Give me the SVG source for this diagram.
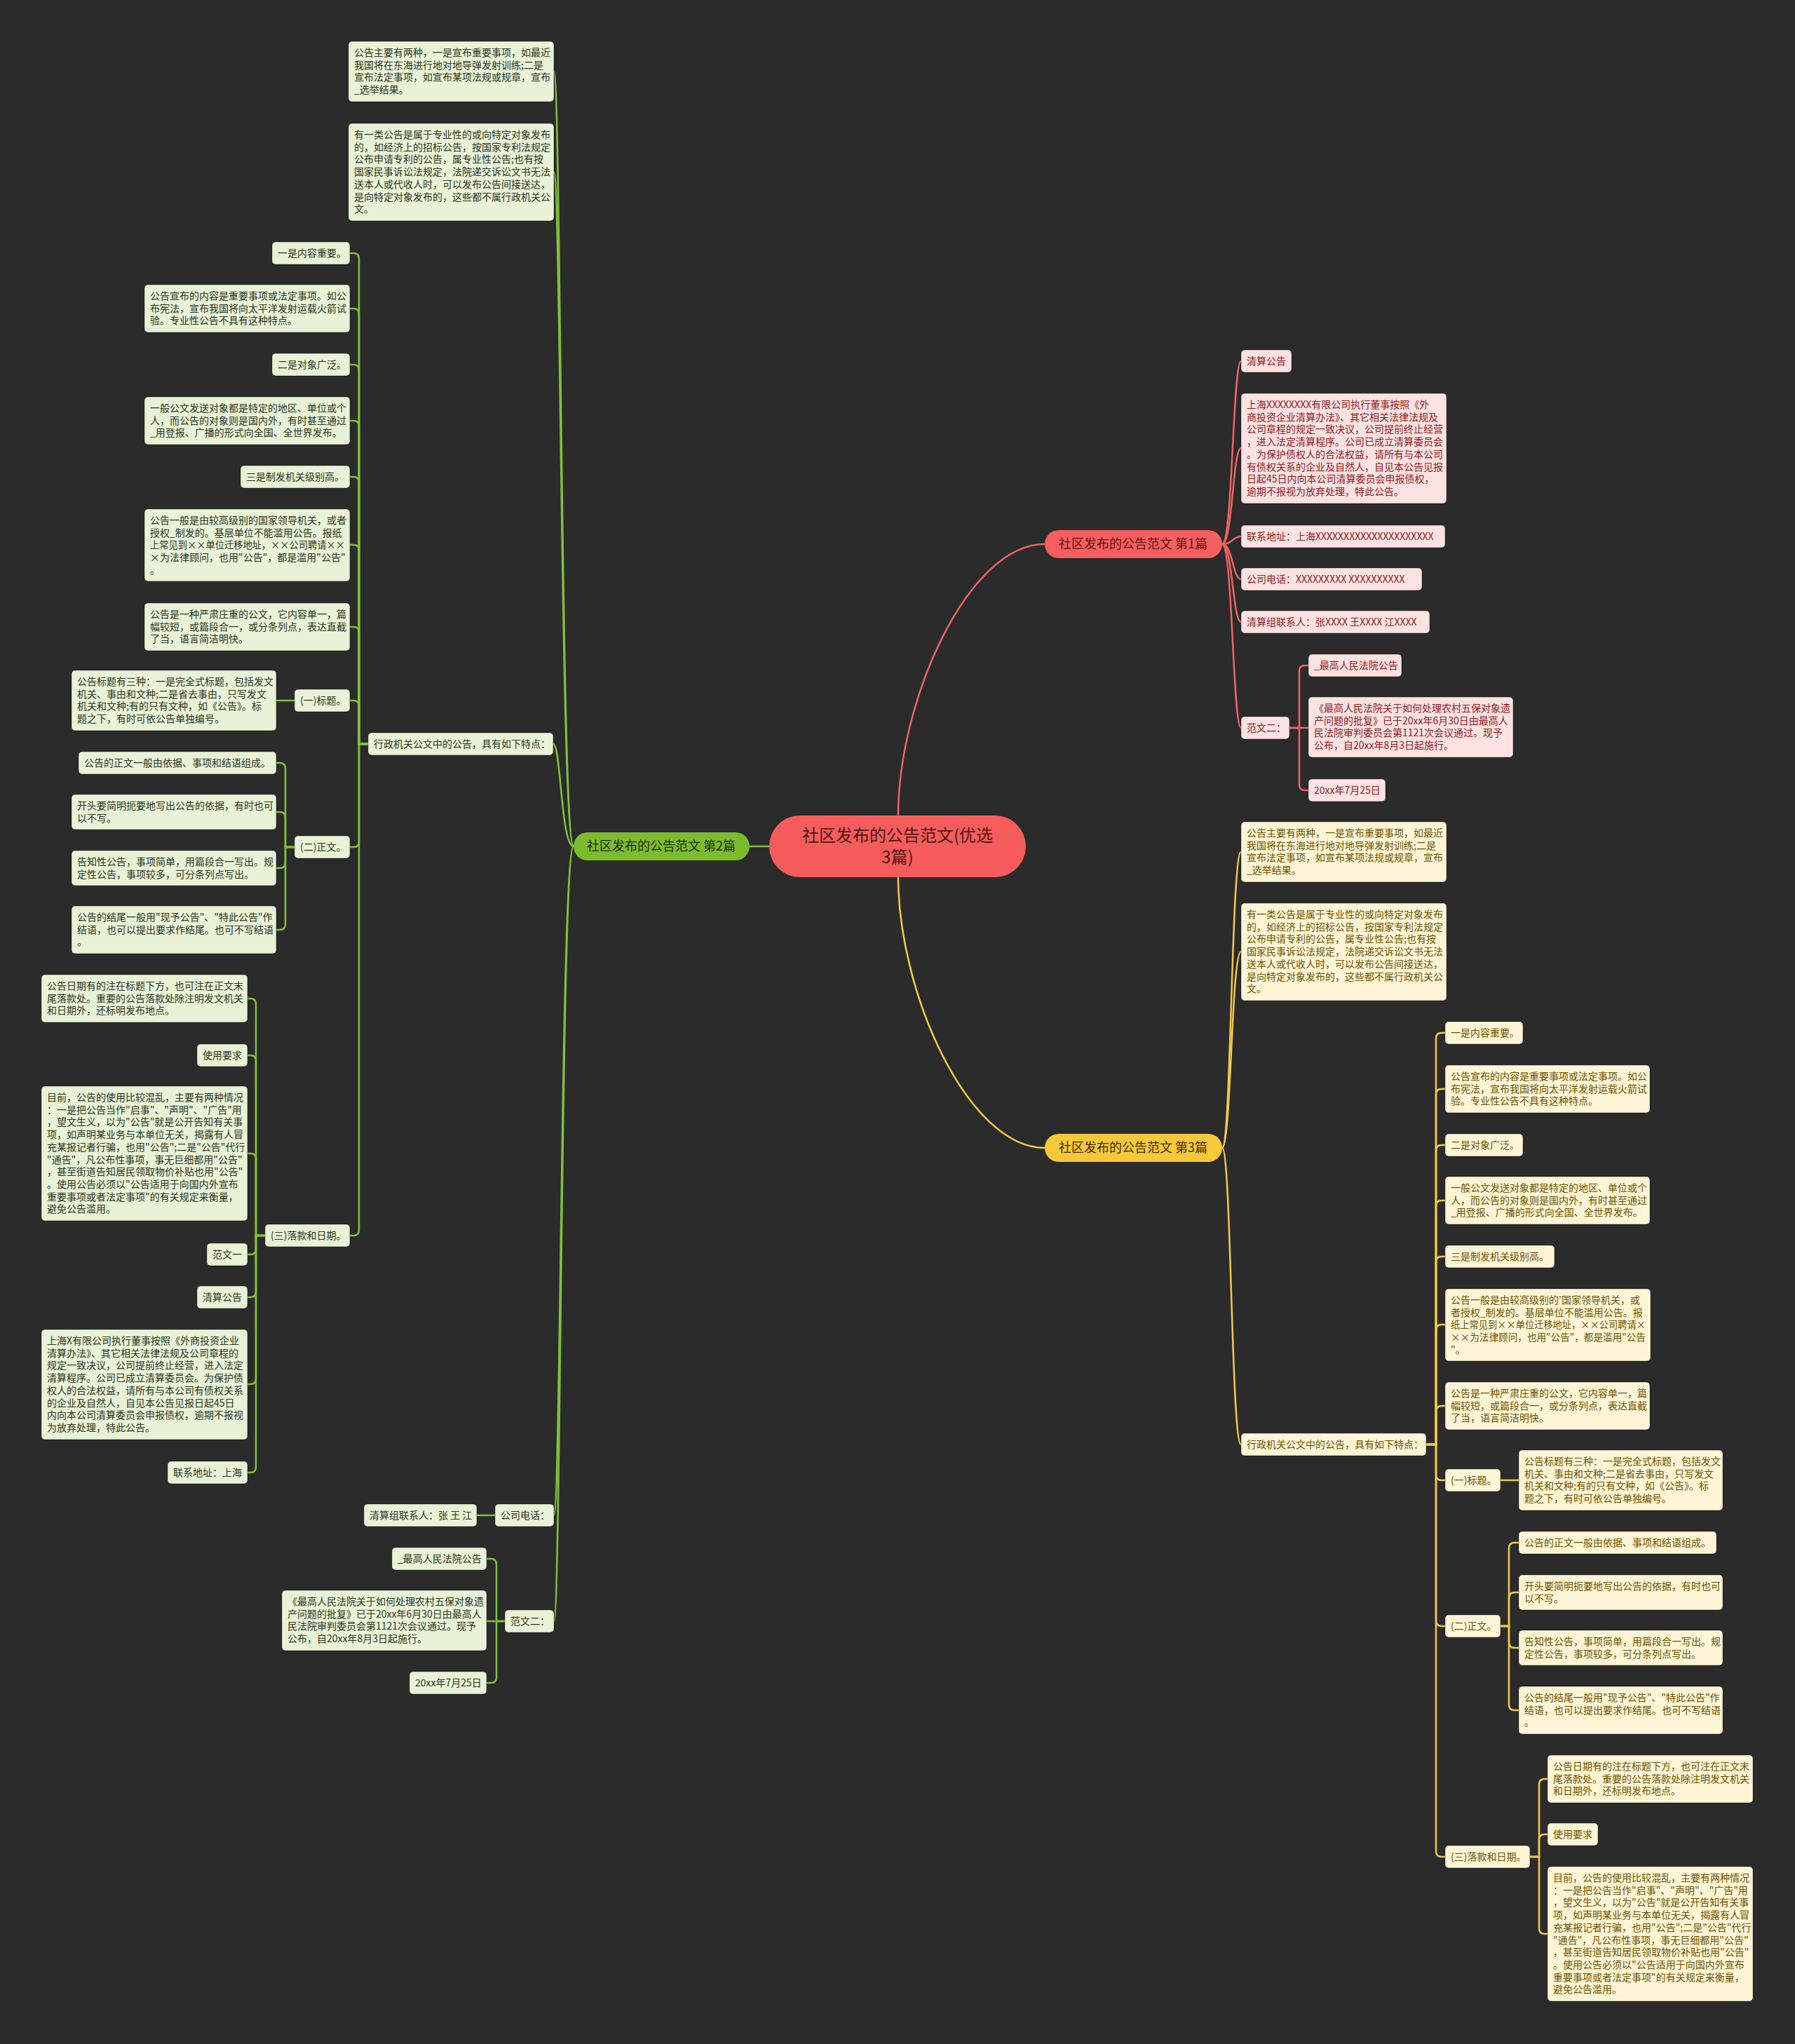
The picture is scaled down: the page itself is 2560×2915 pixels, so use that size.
<svg xmlns="http://www.w3.org/2000/svg" width="2560" height="2915" viewBox="0 0 2560 2915">
<style>
text{font-family:"Noto Sans CJK SC","Microsoft YaHei",sans-serif;font-size:14px}
.lg rect{fill:#e8f2d6;stroke:#000;stroke-opacity:.35;stroke-width:1}
.lg text{fill:#2c331f}
.lr rect{fill:#fde2e2;stroke:#000;stroke-opacity:.35;stroke-width:1}
.lr text{fill:#8e1c1c}
.ly rect{fill:#fdf5d6;stroke:#000;stroke-opacity:.35;stroke-width:1}
.ly text{fill:#6e5200}
.cg path{stroke:#80c23a}
.cr path{stroke:#ef6464}
.cy path{stroke:#f2c94a}
#connectors path{fill:none;stroke-width:2.5}
.br text{font-size:18px;text-anchor:middle}
</style>
<rect width="2560" height="2915" fill="#2b2b2b"/>
<g id="connectors">
<g class="cr">
<path d="M1281,1163 C1281,1000 1380,776 1490,776" stroke-width="3"/>
<path d="M1743,776 C1758,776 1758,515 1770,515"/>
<path d="M1743,776 C1758,776 1758,639 1770,639"/>
<path d="M1743,776 C1758,776 1758,765 1770,765"/>
<path d="M1743,776 C1758,776 1758,826 1770,826"/>
<path d="M1743,776 C1758,776 1758,887 1770,887"/>
<path d="M1743,776 C1758,776 1758,1038 1770,1038"/>
<path d="M1839,1038 H1853 V957 Q1853,949 1861,949 H1866"/>
<path d="M1839,1038 H1866"/>
<path d="M1839,1038 H1853 V1119 Q1853,1127 1861,1127 H1866"/>
</g>
<g class="cy">
<path d="M1281,1251 C1281,1414 1380,1637 1490,1637" stroke-width="3"/>
<path d="M1743,1637 C1756,1637 1756,1215 1770,1215"/>
<path d="M1743,1637 C1756,1637 1756,1357 1770,1357"/>
<path d="M1743,1637 C1756,1637 1756,2060 1770,2060"/>
<path d="M2034,2060 H2048 V1481 Q2048,1473 2056,1473 H2061"/>
<path d="M2034,2060 H2048 V1561 Q2048,1553 2056,1553 H2061"/>
<path d="M2034,2060 H2048 V1641 Q2048,1633 2056,1633 H2061"/>
<path d="M2034,2060 H2048 V1720 Q2048,1712 2056,1712 H2061"/>
<path d="M2034,2060 H2048 V1800 Q2048,1792 2056,1792 H2061"/>
<path d="M2034,2060 H2048 V1897 Q2048,1889 2056,1889 H2061"/>
<path d="M2034,2060 H2048 V2013 Q2048,2005 2056,2005 H2061"/>
<path d="M2034,2060 H2048 V2103 Q2048,2111 2056,2111 H2061"/>
<path d="M2034,2060 H2048 V2311 Q2048,2319 2056,2319 H2061"/>
<path d="M2034,2060 H2048 V2640 Q2048,2648 2056,2648 H2061"/>
<path d="M2140,2111 H2166"/>
<path d="M2140,2319 H2152 V2208 Q2152,2200 2160,2200 H2166"/>
<path d="M2140,2319 H2152 V2279 Q2152,2271 2160,2271 H2166"/>
<path d="M2140,2319 H2152 V2342 Q2152,2350 2160,2350 H2166"/>
<path d="M2140,2319 H2152 V2431 Q2152,2439 2160,2439 H2166"/>
<path d="M2182,2648 H2195 V2545 Q2195,2537 2203,2537 H2207"/>
<path d="M2182,2648 H2195 V2624 Q2195,2616 2203,2616 H2207"/>
<path d="M2182,2648 H2195 V2750 Q2195,2758 2203,2758 H2207"/>
</g>
<g class="cg">
<path d="M1097,1207 H1069" stroke-width="3"/>
<path d="M818,1207 C800,1207 800,102 790,102"/>
<path d="M818,1207 C800,1207 800,245 790,245"/>
<path d="M818,1207 C800,1207 800,1061 789,1061"/>
<path d="M818,1207 C800,1207 800,2161 790,2161"/>
<path d="M818,1207 C800,1207 800,2312 790,2312"/>
<path d="M525,1061 H512 V369 Q512,361 504,361 H499"/>
<path d="M525,1061 H512 V448 Q512,440 504,440 H499"/>
<path d="M525,1061 H512 V528 Q512,520 504,520 H499"/>
<path d="M525,1061 H512 V608 Q512,600 504,600 H499"/>
<path d="M525,1061 H512 V688 Q512,680 504,680 H499"/>
<path d="M525,1061 H512 V785 Q512,777 504,777 H499"/>
<path d="M525,1061 H512 V902 Q512,894 504,894 H499"/>
<path d="M525,1061 H512 V1007 Q512,999 504,999 H499"/>
<path d="M525,1061 H512 V1200 Q512,1208 504,1208 H499"/>
<path d="M525,1061 H512 V1754 Q512,1762 504,1762 H499"/>
<path d="M420,999 H394"/>
<path d="M420,1208 H407 V1096 Q407,1088 399,1088 H394"/>
<path d="M420,1208 H407 V1166 Q407,1158 399,1158 H394"/>
<path d="M420,1208 H407 V1230 Q407,1238 399,1238 H394"/>
<path d="M420,1208 H407 V1318 Q407,1326 399,1326 H394"/>
<path d="M378,1762 H365 V1432 Q365,1424 357,1424 H353"/>
<path d="M378,1762 H365 V1513 Q365,1505 357,1505 H353"/>
<path d="M378,1762 H365 V1653 Q365,1645 357,1645 H353"/>
<path d="M378,1762 H365 V1781 Q365,1789 357,1789 H353"/>
<path d="M378,1762 H365 V1842 Q365,1850 357,1850 H353"/>
<path d="M378,1762 H365 V1966 Q365,1974 357,1974 H353"/>
<path d="M378,1762 H365 V2092 Q365,2100 357,2100 H353"/>
<path d="M706,2161 H680"/>
<path d="M720,2312 H708 V2231 Q708,2223 700,2223 H694"/>
<path d="M720,2312 H694"/>
<path d="M720,2312 H708 V2392 Q708,2400 700,2400 H694"/>
</g>
</g>

<g id="root">
<rect x="1097" y="1163" width="366" height="88" rx="44" fill="#f75c5c"/>
<text x="1280" y="1200" text-anchor="middle" fill="#4a1515" style="font-size:24px">社区发布的公告范文(优选<tspan x="1280" dy="31">3篇)</tspan></text>
</g>

<g id="branch1" class="br">
<rect x="1490" y="756" width="253" height="40" rx="20" fill="#f65f5f"/>
<text x="1616" y="782" fill="#5c1414">社区发布的公告范文 第1篇</text>
</g>
<g id="branch2" class="br">
<rect x="818" y="1187" width="251" height="40" rx="20" fill="#7dbb2e"/>
<text x="943" y="1213" fill="#1e2b0c">社区发布的公告范文 第2篇</text>
</g>
<g id="branch3" class="br">
<rect x="1490" y="1617" width="253" height="40" rx="20" fill="#f8c83a"/>
<text x="1616" y="1643" fill="#3d2c00">社区发布的公告范文 第3篇</text>
</g>

<!-- RED -->
<g id="r1" class="lr"><rect x="1770" y="499" width="72" height="32" rx="5"/><text x="1778" y="520">清算公告</text></g>
<g id="r2" class="lr"><rect x="1770" y="561" width="293" height="157" rx="5"/><text x="1778" y="582">上海XXXXXXXX有限公司执行董事按照《外<tspan x="1778" dy="17.7">商投资企业清算办法》、其它相关法律法规及</tspan><tspan x="1778" dy="17.7">公司章程的规定一致决议，公司提前终止经营</tspan><tspan x="1778" dy="17.7">，进入法定清算程序。公司已成立清算委员会</tspan><tspan x="1778" dy="17.7">。为保护债权人的合法权益，请所有与本公司</tspan><tspan x="1778" dy="17.7">有债权关系的企业及自然人，自见本公告见报</tspan><tspan x="1778" dy="17.7">日起45日内向本公司清算委员会申报债权，</tspan><tspan x="1778" dy="17.7">逾期不报视为放弃处理，特此公告。</tspan></text></g>
<g id="r3" class="lr"><rect x="1770" y="749" width="291" height="32" rx="5"/><text x="1778" y="770">联系地址：上海XXXXXXXXXXXXXXXXXXXXX</text></g>
<g id="r4" class="lr"><rect x="1770" y="810" width="258" height="32" rx="5"/><text x="1778" y="831">公司电话：XXXXXXXXX XXXXXXXXXX</text></g>
<g id="r5" class="lr"><rect x="1770" y="871" width="269" height="32" rx="5"/><text x="1778" y="892">清算组联系人：张XXXX 王XXXX 江XXXX</text></g>
<g id="r6" class="lr"><rect x="1770" y="1022" width="69" height="32" rx="5"/><text x="1778" y="1043">范文二：</text></g>
<g id="r6a" class="lr"><rect x="1866" y="933" width="133" height="32" rx="5"/><text x="1874" y="954">_最高人民法院公告</text></g>
<g id="r6b" class="lr"><rect x="1866" y="994" width="292" height="86" rx="5"/><text x="1874" y="1015">《最高人民法院关于如何处理农村五保对象遗<tspan x="1874" dy="17.7">产问题的批复》已于20xx年6月30日由最高人</tspan><tspan x="1874" dy="17.7">民法院审判委员会第1121次会议通过。现予</tspan><tspan x="1874" dy="17.7">公布，自20xx年8月3日起施行。</tspan></text></g>
<g id="r6c" class="lr"><rect x="1866" y="1111" width="110" height="32" rx="5"/><text x="1874" y="1132">20xx年7月25日</text></g>

<!-- YELLOW -->
<g id="y1" class="ly"><rect x="1770" y="1172" width="293" height="86" rx="5"/><text x="1778" y="1193">公告主要有两种，一是宣布重要事项，如最近<tspan x="1778" dy="17.7">我国将在东海进行地对地导弹发射训练;二是</tspan><tspan x="1778" dy="17.7">宣布法定事项，如宣布某项法规或规章，宣布</tspan><tspan x="1778" dy="17.7">_选举结果。</tspan></text></g>
<g id="y2" class="ly"><rect x="1770" y="1288" width="293" height="139" rx="5"/><text x="1778" y="1309">有一类公告是属于专业性的或向特定对象发布<tspan x="1778" dy="17.7">的，如经济上的招标公告，按国家专利法规定</tspan><tspan x="1778" dy="17.7">公布申请专利的公告，属专业性公告;也有按</tspan><tspan x="1778" dy="17.7">国家民事诉讼法规定，法院递交诉讼文书无法</tspan><tspan x="1778" dy="17.7">送本人或代收人时，可以发布公告间接送达，</tspan><tspan x="1778" dy="17.7">是向特定对象发布的，这些都不属行政机关公</tspan><tspan x="1778" dy="17.7">文。</tspan></text></g>
<g id="y3" class="ly"><rect x="1770" y="2044" width="264" height="32" rx="5"/><text x="1778" y="2065">行政机关公文中的公告，具有如下特点：</text></g>
<g id="y3a" class="ly"><rect x="2061" y="1457" width="111" height="32" rx="5"/><text x="2069" y="1478">一是内容重要。</text></g>
<g id="y3b" class="ly"><rect x="2061" y="1519" width="292" height="68" rx="5"/><text x="2069" y="1540">公告宣布的内容是重要事项或法定事项。如公<tspan x="2069" dy="17.7">布宪法，宣布我国将向太平洋发射运载火箭试</tspan><tspan x="2069" dy="17.7">验。专业性公告不具有这种特点。</tspan></text></g>
<g id="y3c" class="ly"><rect x="2061" y="1617" width="111" height="32" rx="5"/><text x="2069" y="1638">二是对象广泛。</text></g>
<g id="y3d" class="ly"><rect x="2061" y="1678" width="292" height="68" rx="5"/><text x="2069" y="1699">一般公文发送对象都是特定的地区、单位或个<tspan x="2069" dy="17.7">人，而公告的对象则是国内外，有时甚至通过</tspan><tspan x="2069" dy="17.7">_用登报、广播的形式向全国、全世界发布。</tspan></text></g>
<g id="y3e" class="ly"><rect x="2061" y="1776" width="156" height="32" rx="5"/><text x="2069" y="1797">三是制发机关级别高。</text></g>
<g id="y3f" class="ly"><rect x="2061" y="1838" width="293" height="103" rx="5"/><text x="2069" y="1859">公告一般是由较高级别的'国家领导机关，或<tspan x="2069" dy="17.7">者授权_制发的。基层单位不能滥用公告。报</tspan><tspan x="2069" dy="17.7" textLength="278" lengthAdjust="spacingAndGlyphs">纸上常见到××单位迁移地址，××公司聘请×</tspan><tspan x="2069" dy="17.7" textLength="278" lengthAdjust="spacingAndGlyphs">××为法律顾问，也用"公告"，都是滥用"公告</tspan><tspan x="2069" dy="17.7">"。</tspan></text></g>
<g id="y3g" class="ly"><rect x="2061" y="1971" width="292" height="68" rx="5"/><text x="2069" y="1992">公告是一种严肃庄重的公文，它内容单一，篇<tspan x="2069" dy="17.7">幅较短，或篇段合一，或分条列点，表达直截</tspan><tspan x="2069" dy="17.7">了当，语言简洁明快。</tspan></text></g>
<g id="y3h" class="ly"><rect x="2061" y="2095" width="79" height="32" rx="5"/><text x="2069" y="2116">(一)标题。</text></g>
<g id="y3i" class="ly"><rect x="2061" y="2303" width="79" height="32" rx="5"/><text x="2069" y="2324">(二)正文。</text></g>
<g id="y3j" class="ly"><rect x="2061" y="2632" width="121" height="32" rx="5"/><text x="2069" y="2653">(三)落款和日期。</text></g>
<g id="y3h1" class="ly"><rect x="2166" y="2068" width="291" height="86" rx="5"/><text x="2174" y="2089">公告标题有三种：一是完全式标题，包括发文<tspan x="2174" dy="17.7">机关、事由和文种;二是省去事由，只写发文</tspan><tspan x="2174" dy="17.7">机关和文种;有的只有文种，如《公告》。标</tspan><tspan x="2174" dy="17.7">题之下，有时可依公告单独编号。</tspan></text></g>
<g id="y3i1" class="ly"><rect x="2166" y="2184" width="282" height="32" rx="5"/><text x="2174" y="2205">公告的正文一般由依据、事项和结语组成。</text></g>
<g id="y3i2" class="ly"><rect x="2166" y="2246" width="291" height="50" rx="5"/><text x="2174" y="2267">开头要简明扼要地写出公告的依据，有时也可<tspan x="2174" dy="17.7">以不写。</tspan></text></g>
<g id="y3i3" class="ly"><rect x="2166" y="2325" width="291" height="50" rx="5"/><text x="2174" y="2346">告知性公告，事项简单，用篇段合一写出。规<tspan x="2174" dy="17.7">定性公告，事项较多，可分条列点写出。</tspan></text></g>
<g id="y3i4" class="ly"><rect x="2166" y="2405" width="291" height="68" rx="5"/><text x="2174" y="2426">公告的结尾一般用"现予公告"、"特此公告"作<tspan x="2174" dy="17.7">结语，也可以提出要求作结尾。也可不写结语</tspan><tspan x="2174" dy="17.7">。</tspan></text></g>
<g id="y3j1" class="ly"><rect x="2207" y="2503" width="293" height="68" rx="5"/><text x="2215" y="2524">公告日期有的注在标题下方，也可注在正文末<tspan x="2215" dy="17.7">尾落款处。重要的公告落款处除注明发文机关</tspan><tspan x="2215" dy="17.7">和日期外，还标明发布地点。</tspan></text></g>
<g id="y3j2" class="ly"><rect x="2207" y="2600" width="72" height="32" rx="5"/><text x="2215" y="2621">使用要求</text></g>
<g id="y3j3" class="ly"><rect x="2207" y="2662" width="293" height="192" rx="5"/><text x="2215" y="2683">目前，公告的使用比较混乱，主要有两种情况<tspan x="2215" dy="17.7">：一是把公告当作"启事"、"声明"、"广告"用</tspan><tspan x="2215" dy="17.7">，望文生义，以为"公告"就是公开告知有关事</tspan><tspan x="2215" dy="17.7">项，如声明某业务与本单位无关，揭露有人冒</tspan><tspan x="2215" dy="17.7">充某报记者行骗，也用"公告";二是"公告"代行</tspan><tspan x="2215" dy="17.7">"通告"，凡公布性事项，事无巨细都用"公告"</tspan><tspan x="2215" dy="17.7">，甚至街道告知居民领取物价补贴也用"公告"</tspan><tspan x="2215" dy="17.7">。使用公告必须以"公告适用于向国内外宣布</tspan><tspan x="2215" dy="17.7">重要事项或者法定事项"的有关规定来衡量，</tspan><tspan x="2215" dy="17.7">避免公告滥用。</tspan></text></g>

<!-- GREEN -->
<g id="g1" class="lg"><rect x="497" y="59" width="293" height="86" rx="5"/><text x="505" y="80">公告主要有两种，一是宣布重要事项，如最近<tspan x="505" dy="17.7">我国将在东海进行地对地导弹发射训练;二是</tspan><tspan x="505" dy="17.7">宣布法定事项，如宣布某项法规或规章，宣布</tspan><tspan x="505" dy="17.7">_选举结果。</tspan></text></g>
<g id="g2" class="lg"><rect x="497" y="176" width="293" height="139" rx="5"/><text x="505" y="197">有一类公告是属于专业性的或向特定对象发布<tspan x="505" dy="17.7">的，如经济上的招标公告，按国家专利法规定</tspan><tspan x="505" dy="17.7">公布申请专利的公告，属专业性公告;也有按</tspan><tspan x="505" dy="17.7">国家民事诉讼法规定，法院递交诉讼文书无法</tspan><tspan x="505" dy="17.7">送本人或代收人时，可以发布公告间接送达，</tspan><tspan x="505" dy="17.7">是向特定对象发布的，这些都不属行政机关公</tspan><tspan x="505" dy="17.7">文。</tspan></text></g>
<g id="g3" class="lg"><rect x="525" y="1045" width="264" height="32" rx="5"/><text x="533" y="1066">行政机关公文中的公告，具有如下特点：</text></g>
<g id="g4" class="lg"><rect x="706" y="2145" width="84" height="32" rx="5"/><text x="714" y="2166">公司电话：</text></g>
<g id="g5" class="lg"><rect x="720" y="2296" width="70" height="32" rx="5"/><text x="728" y="2317">范文二：</text></g>
<g id="g3a" class="lg"><rect x="388" y="345" width="111" height="32" rx="5"/><text x="396" y="366">一是内容重要。</text></g>
<g id="g3b" class="lg"><rect x="206" y="406" width="293" height="68" rx="5"/><text x="214" y="427">公告宣布的内容是重要事项或法定事项。如公<tspan x="214" dy="17.7">布宪法，宣布我国将向太平洋发射运载火箭试</tspan><tspan x="214" dy="17.7">验。专业性公告不具有这种特点。</tspan></text></g>
<g id="g3c" class="lg"><rect x="388" y="504" width="111" height="32" rx="5"/><text x="396" y="525">二是对象广泛。</text></g>
<g id="g3d" class="lg"><rect x="206" y="566" width="293" height="68" rx="5"/><text x="214" y="587">一般公文发送对象都是特定的地区、单位或个<tspan x="214" dy="17.7">人，而公告的对象则是国内外，有时甚至通过</tspan><tspan x="214" dy="17.7">_用登报、广播的形式向全国、全世界发布。</tspan></text></g>
<g id="g3e" class="lg"><rect x="343" y="664" width="156" height="32" rx="5"/><text x="351" y="685">三是制发机关级别高。</text></g>
<g id="g3f" class="lg"><rect x="206" y="726" width="293" height="103" rx="5"/><text x="214" y="747">公告一般是由较高级别的国家领导机关，或者<tspan x="214" dy="17.7">授权_制发的。基层单位不能滥用公告。报纸</tspan><tspan x="214" dy="17.7" textLength="278" lengthAdjust="spacingAndGlyphs">上常见到××单位迁移地址，××公司聘请××</tspan><tspan x="214" dy="17.7">×为法律顾问，也用"公告"，都是滥用"公告"</tspan><tspan x="214" dy="17.7">。</tspan></text></g>
<g id="g3g" class="lg"><rect x="206" y="860" width="293" height="68" rx="5"/><text x="214" y="881">公告是一种严肃庄重的公文，它内容单一，篇<tspan x="214" dy="17.7">幅较短，或篇段合一，或分条列点，表达直截</tspan><tspan x="214" dy="17.7">了当，语言简洁明快。</tspan></text></g>
<g id="g3h" class="lg"><rect x="420" y="983" width="79" height="32" rx="5"/><text x="428" y="1004">(一)标题。</text></g>
<g id="g3i" class="lg"><rect x="420" y="1192" width="79" height="32" rx="5"/><text x="428" y="1213">(二)正文。</text></g>
<g id="g3j" class="lg"><rect x="378" y="1746" width="121" height="32" rx="5"/><text x="386" y="1767">(三)落款和日期。</text></g>
<g id="g3h1" class="lg"><rect x="102" y="956" width="292" height="86" rx="5"/><text x="110" y="977">公告标题有三种：一是完全式标题，包括发文<tspan x="110" dy="17.7">机关、事由和文种;二是省去事由，只写发文</tspan><tspan x="110" dy="17.7">机关和文种;有的只有文种，如《公告》。标</tspan><tspan x="110" dy="17.7">题之下，有时可依公告单独编号。</tspan></text></g>
<g id="g3i1" class="lg"><rect x="112" y="1072" width="282" height="32" rx="5"/><text x="120" y="1093">公告的正文一般由依据、事项和结语组成。</text></g>
<g id="g3i2" class="lg"><rect x="102" y="1133" width="292" height="50" rx="5"/><text x="110" y="1154">开头要简明扼要地写出公告的依据，有时也可<tspan x="110" dy="17.7">以不写。</tspan></text></g>
<g id="g3i3" class="lg"><rect x="102" y="1213" width="292" height="50" rx="5"/><text x="110" y="1234">告知性公告，事项简单，用篇段合一写出。规<tspan x="110" dy="17.7">定性公告，事项较多，可分条列点写出。</tspan></text></g>
<g id="g3i4" class="lg"><rect x="102" y="1292" width="292" height="68" rx="5"/><text x="110" y="1313">公告的结尾一般用"现予公告"、"特此公告"作<tspan x="110" dy="17.7">结语，也可以提出要求作结尾。也可不写结语</tspan><tspan x="110" dy="17.7">。</tspan></text></g>
<g id="g3j1" class="lg"><rect x="59" y="1390" width="294" height="68" rx="5"/><text x="67" y="1411">公告日期有的注在标题下方，也可注在正文末<tspan x="67" dy="17.7">尾落款处。重要的公告落款处除注明发文机关</tspan><tspan x="67" dy="17.7">和日期外，还标明发布地点。</tspan></text></g>
<g id="g3j2" class="lg"><rect x="281" y="1489" width="72" height="32" rx="5"/><text x="289" y="1510">使用要求</text></g>
<g id="g3j3" class="lg"><rect x="59" y="1549" width="294" height="192" rx="5"/><text x="67" y="1570">目前，公告的使用比较混乱，主要有两种情况<tspan x="67" dy="17.7">：一是把公告当作"启事"、"声明"、"广告"用</tspan><tspan x="67" dy="17.7">，望文生义，以为"公告"就是公开告知有关事</tspan><tspan x="67" dy="17.7">项，如声明某业务与本单位无关，揭露有人冒</tspan><tspan x="67" dy="17.7">充某报记者行骗，也用"公告";二是"公告"代行</tspan><tspan x="67" dy="17.7">"通告"，凡公布性事项，事无巨细都用"公告"</tspan><tspan x="67" dy="17.7">，甚至街道告知居民领取物价补贴也用"公告"</tspan><tspan x="67" dy="17.7">。使用公告必须以"公告适用于向国内外宣布</tspan><tspan x="67" dy="17.7">重要事项或者法定事项"的有关规定来衡量，</tspan><tspan x="67" dy="17.7">避免公告滥用。</tspan></text></g>
<g id="g3j4" class="lg"><rect x="295" y="1773" width="58" height="32" rx="5"/><text x="303" y="1794">范文一</text></g>
<g id="g3j5" class="lg"><rect x="281" y="1834" width="72" height="32" rx="5"/><text x="289" y="1855">清算公告</text></g>
<g id="g3j6" class="lg"><rect x="59" y="1896" width="294" height="157" rx="5"/><text x="67" y="1917">上海X有限公司执行董事按照《外商投资企业<tspan x="67" dy="17.7">清算办法》、其它相关法律法规及公司章程的</tspan><tspan x="67" dy="17.7">规定一致决议，公司提前终止经营，进入法定</tspan><tspan x="67" dy="17.7">清算程序。公司已成立清算委员会。为保护债</tspan><tspan x="67" dy="17.7">权人的合法权益，请所有与本公司有债权关系</tspan><tspan x="67" dy="17.7">的企业及自然人，自见本公告见报日起45日</tspan><tspan x="67" dy="17.7">内向本公司清算委员会申报债权，逾期不报视</tspan><tspan x="67" dy="17.7">为放弃处理，特此公告。</tspan></text></g>
<g id="g3j7" class="lg"><rect x="239" y="2084" width="114" height="32" rx="5"/><text x="247" y="2105">联系地址：上海</text></g>
<g id="g4a" class="lg"><rect x="519" y="2145" width="161" height="32" rx="5"/><text x="527" y="2166">清算组联系人：张 王 江</text></g>
<g id="g5a" class="lg"><rect x="559" y="2207" width="135" height="32" rx="5"/><text x="567" y="2228">_最高人民法院公告</text></g>
<g id="g5b" class="lg"><rect x="402" y="2268" width="292" height="86" rx="5"/><text x="410" y="2289">《最高人民法院关于如何处理农村五保对象遗<tspan x="410" dy="17.7">产问题的批复》已于20xx年6月30日由最高人</tspan><tspan x="410" dy="17.7">民法院审判委员会第1121次会议通过。现予</tspan><tspan x="410" dy="17.7">公布，自20xx年8月3日起施行。</tspan></text></g>
<g id="g5c" class="lg"><rect x="584" y="2384" width="110" height="32" rx="5"/><text x="592" y="2405">20xx年7月25日</text></g>
</svg>
